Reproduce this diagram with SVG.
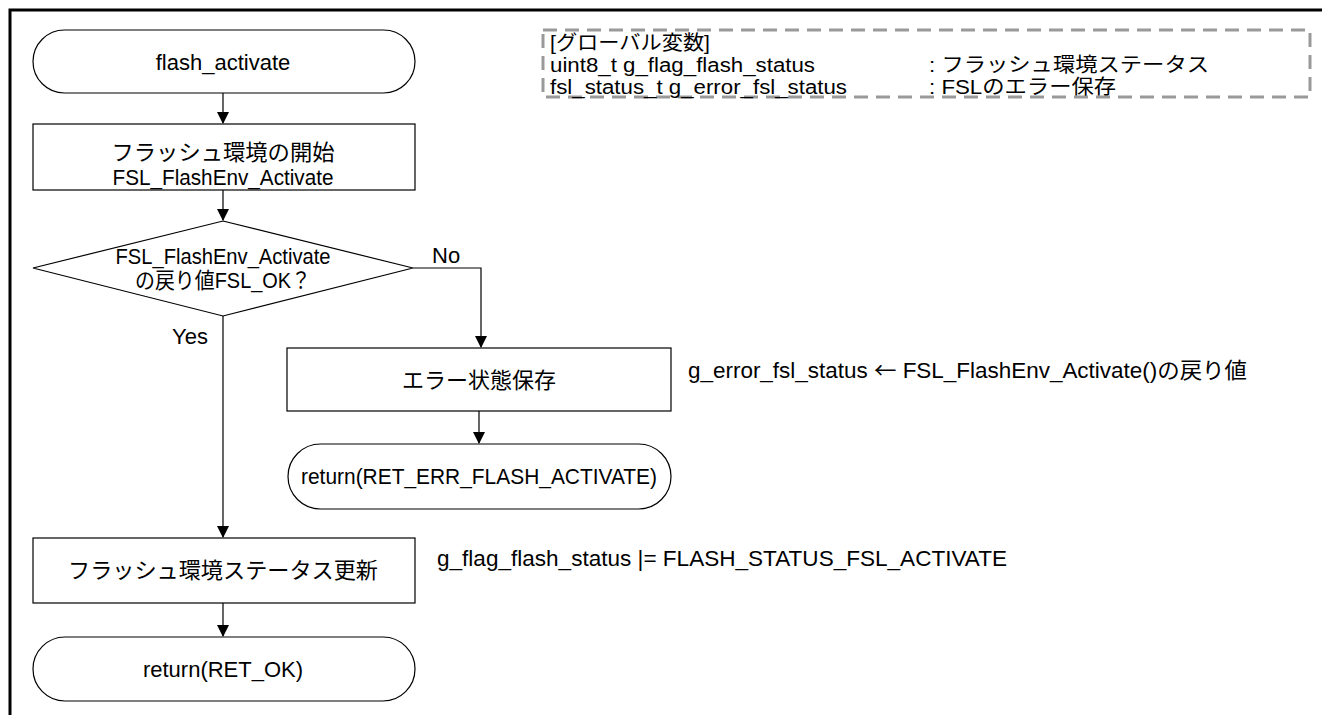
<svg xmlns="http://www.w3.org/2000/svg" width="1322" height="715" viewBox="0 0 1322 715">
<style>
.s{fill:#fff;stroke:#000;stroke-width:1.2}
.t{font-family:"Liberation Sans","Noto Sans CJK JP",sans-serif;font-size:22px;fill:#000}
.g{font-size:20px}
.j{font-family:"Noto Sans CJK JP",sans-serif}
.m{text-anchor:middle}
.c{fill:none;stroke:#000;stroke-width:1.2}
</style>
<defs>
<marker id="a" markerWidth="12" markerHeight="12" viewBox="0 0 12 12" refX="11" refY="6" orient="auto" markerUnits="userSpaceOnUse">
<path d="M0,0 L12,6 L0,12 z" fill="#000"/>
</marker>
</defs>
<rect width="1322" height="715" fill="#fff"/>
<path d="M10,715 V10 H1322" fill="none" stroke="#000" stroke-width="3"/>
<g id="globals">
<rect x="543" y="30" width="767" height="67" fill="none" stroke="#999" stroke-width="3" stroke-dasharray="14,8"/>
<text class="t g" x="550" y="50" textLength="160" lengthAdjust="spacingAndGlyphs">[グローバル変数]</text>
<text class="t g" x="550" y="72" textLength="265" lengthAdjust="spacingAndGlyphs">uint8_t g_flag_flash_status</text>
<text class="t g" x="929" y="72" textLength="280" lengthAdjust="spacingAndGlyphs">: フラッシュ環境ステータス</text>
<text class="t g" x="550" y="94" textLength="297" lengthAdjust="spacingAndGlyphs">fsl_status_t g_error_fsl_status</text>
<text class="t g" x="929" y="94" textLength="187" lengthAdjust="spacingAndGlyphs">: FSLのエラー保存</text>
</g>
<g id="start">
<rect class="s" x="33" y="30" width="382" height="63" rx="31.5"/>
<text class="t m" x="223" y="70">flash_activate</text>
</g>
<g id="activate">
<rect class="s" x="33" y="124" width="382" height="66"/>
<text class="t m" x="223" y="160" textLength="223" lengthAdjust="spacingAndGlyphs">フラッシュ環境の開始</text>
<text class="t m" x="223" y="185" textLength="221" lengthAdjust="spacingAndGlyphs">FSL_FlashEnv_Activate</text>
</g>
<g id="check">
<polygon class="s" points="223,221 413,268 223,316 33,268"/>
<text class="t m" x="223" y="264" textLength="215" lengthAdjust="spacingAndGlyphs">FSL_FlashEnv_Activate</text>
<text class="t m" x="223" y="288" textLength="176" lengthAdjust="spacingAndGlyphs">の戻り値FSL_OK？</text>
</g>
<g id="errsave">
<rect class="s" x="287" y="348" width="384" height="63"/>
<text class="t m" x="479" y="388">エラー状態保存</text>
</g>
<g id="reterr">
<rect class="s" x="288" y="444" width="383" height="65" rx="32.5"/>
<text class="t m" x="479" y="484" textLength="356" lengthAdjust="spacingAndGlyphs">return(RET_ERR_FLASH_ACTIVATE)</text>
</g>
<g id="update">
<rect class="s" x="33" y="538" width="382" height="65"/>
<text class="t m" x="223" y="578" textLength="310" lengthAdjust="spacingAndGlyphs">フラッシュ環境ステータス更新</text>
</g>
<g id="retok">
<rect class="s" x="33" y="637" width="382" height="64" rx="32"/>
<text class="t m" x="223" y="677">return(RET_OK)</text>
</g>
<g id="notes">
<text class="t" x="688" y="378" textLength="559" lengthAdjust="spacingAndGlyphs">g_error_fsl_status <tspan class="j">←</tspan> FSL_FlashEnv_Activate()の戻り値</text>
<text class="t" x="437" y="566" textLength="570" lengthAdjust="spacingAndGlyphs">g_flag_flash_status |= FLASH_STATUS_FSL_ACTIVATE</text>
</g>
<g id="connectors">
<line class="c" x1="223" y1="93" x2="223" y2="123" marker-end="url(#a)"/>
<line class="c" x1="223" y1="190" x2="223" y2="220" marker-end="url(#a)"/>
<polyline class="c" points="413,268 481,268 481,347" marker-end="url(#a)"/>
<line class="c" x1="223" y1="316" x2="223" y2="537" marker-end="url(#a)"/>
<line class="c" x1="479" y1="411" x2="479" y2="443" marker-end="url(#a)"/>
<line class="c" x1="223" y1="603" x2="223" y2="636" marker-end="url(#a)"/>
<text class="t" x="432" y="263">No</text>
<text class="t" x="172" y="344">Yes</text>
</g>
</svg>
